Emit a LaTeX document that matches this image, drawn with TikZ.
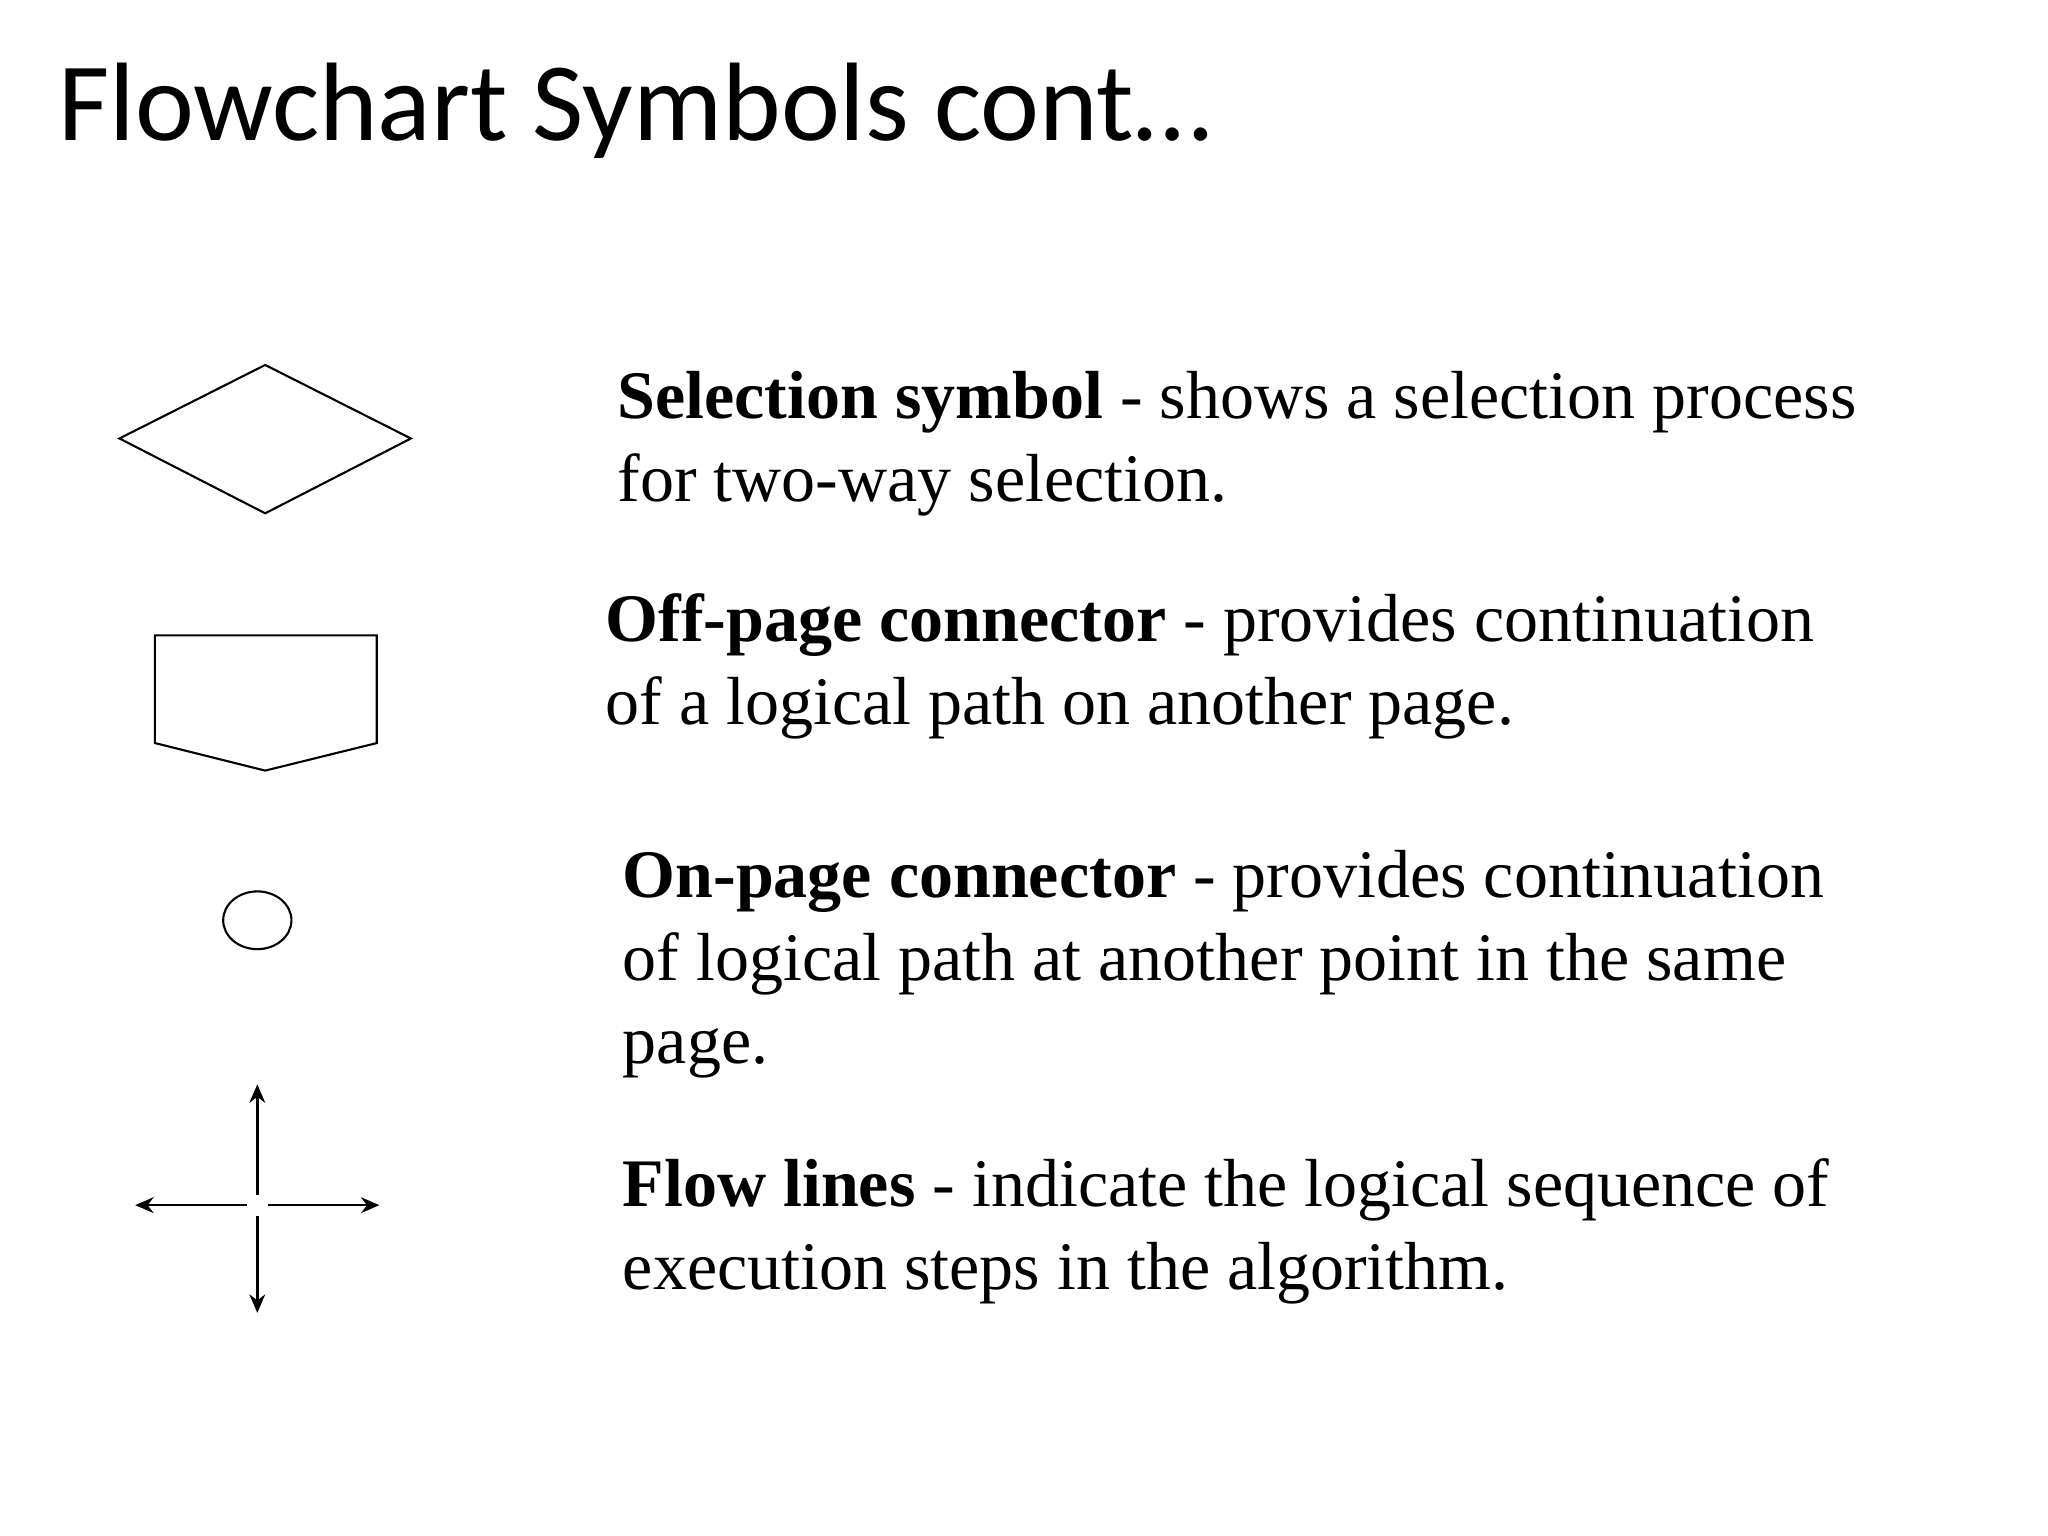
\documentclass[tikz,border=0pt]{standalone}
\usepackage{fontspec}
\usetikzlibrary{arrows.meta}
\setmainfont{Liberation Serif}
\newfontfamily\titlefont{Carlito}
\begin{document}
\begin{tikzpicture}[x=0.5pt,y=-0.5pt,
  shp/.style={draw,line width=0.8pt},
  fl/.style={draw,line width=1pt,-{Stealth[length=7pt,width=6pt]}},
  desc/.style={anchor=base west,align=left,inner sep=0pt,font=\fontsize{25.9}{31.5}\selectfont}]
\useasboundingbox (0,0) rectangle (1560,1170);
\node[anchor=base west,inner sep=0pt,font=\titlefont\fontsize{42.5}{50}\selectfont] (title) at (44,107) {Flowchart Symbols cont…};
\draw[shp] (91,334) -- (202,278) -- (313,334) -- (202,391) -- cycle;
\draw[shp] (118,484) -- (287,484) -- (287,566) -- (202,587) -- (118,566) -- cycle;
\draw[shp] (196,701) ellipse [x radius=13pt, y radius=11pt];
\coordinate (c) at (196,918);
\coordinate (u) at (196,826);
\coordinate (d) at (196,1000);
\coordinate (l) at (103,918);
\coordinate (r) at (289,918);
\draw[fl] ([yshift=4pt]c) -- (u);
\draw[fl] ([yshift=-4pt]c) -- (d);
\draw[fl] ([xshift=-4pt]c) -- (l);
\draw[fl] ([xshift=4pt]c) -- (r);
\node[desc] (t1) at (470,382) {\textbf{Selection symbol} - shows a selection process\\for two-way selection.};
\node[desc] (t2) at (461,552) {\textbf{Off-page connector} - provides continuation\\of a logical path on another page.};
\node[desc] (t3) at (474,810) {\textbf{On-page connector} - provides continuation\\of logical path at another point in the same\\page.};
\node[desc] (t4) at (474,982) {\textbf{Flow lines} - indicate the logical sequence of\\execution steps in the algorithm.};
\end{tikzpicture}
\end{document}
